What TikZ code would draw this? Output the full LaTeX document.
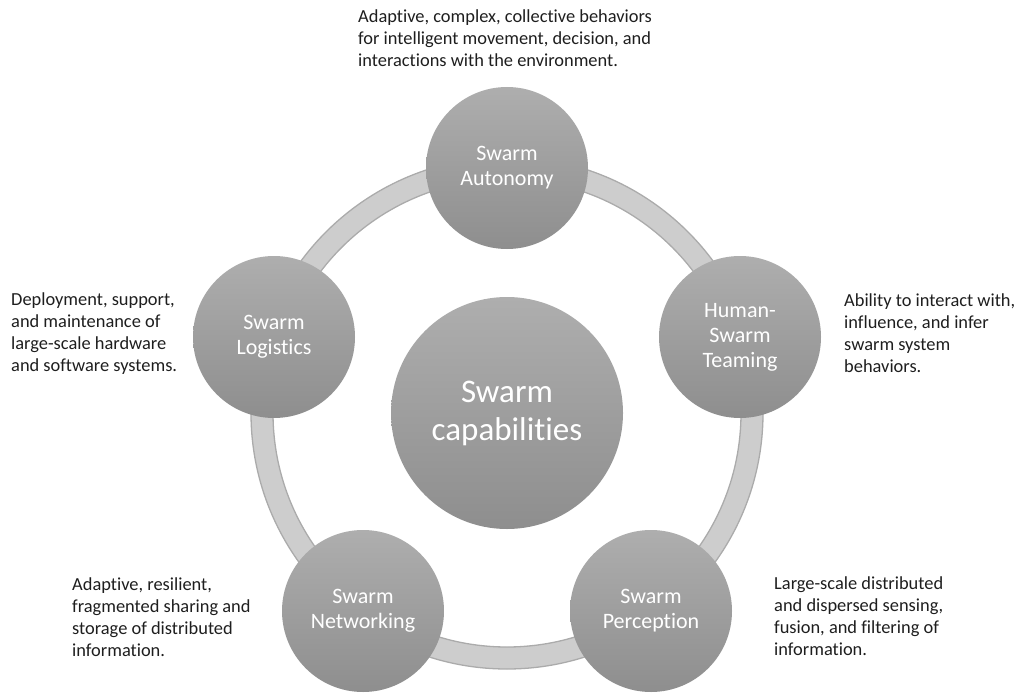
\documentclass[tikz,border=0pt]{standalone}
\usepackage{fontspec}
\setmainfont{Carlito}[Ligatures=NoCommon]
\definecolor{ringfill}{HTML}{CDCDCD}
\definecolor{ringedge}{HTML}{ABABAB}
\definecolor{balltop}{HTML}{AEAEAE}
\definecolor{ballbottom}{HTML}{8E8E8E}
\definecolor{desctext}{HTML}{1E1E1E}
\begin{document}
\begin{tikzpicture}[x=1pt,y=-1pt,
  ball/.style={circle, inner sep=0pt, minimum size=162pt,
    top color=balltop, bottom color=ballbottom, text=white, align=center,
    font=\fontsize{22}{25}\selectfont},
  core/.style={ball, minimum size=232pt,
    font=\fontsize{33}{38}\selectfont},
  desc/.style={anchor=base west, align=left, inner sep=0pt, text=desctext,
    font=\fontsize{18.4}{22}\selectfont}]
\useasboundingbox (0,0) rectangle (1017,695);

% centre hub and the ring that links the five capabilities
\coordinate (mid) at (507,413);
\draw[ringfill, line width=22pt] (mid) circle[radius=245];
\draw[ringedge, line width=1.3pt] (mid) circle[radius=256];
\draw[ringedge, line width=1.3pt] (mid) circle[radius=234];

\node[core] (caps) at (mid) {Swarm\\capabilities};

% capabilities around the ring
\node[ball] (auto) at (507,168) {Swarm\\Autonomy};
\node[ball] (team) at (740,337) {Human-\\Swarm\\Teaming};
\node[ball] (perc) at (651,611) {Swarm\\Perception};
\node[ball] (netw) at (363,611) {Swarm\\Networking};
\node[ball] (logi) at (274,337) {Swarm\\Logistics};

% descriptions (each placed by the baseline of its last line)
\node[desc] (dauto) at (358,67) {Adaptive, complex, collective behaviors\\for intelligent movement, decision, and\\interactions with the environment.};
\node[desc] (dteam) at (844,372) {Ability to interact with,\\influence, and infer\\swarm system\\behaviors.};
\node[desc] (dlogi) at (11,371) {Deployment, support,\\and maintenance of\\large-scale hardware\\and software systems.};
\node[desc] (dnetw) at (72,656) {Adaptive, resilient,\\fragmented sharing and\\storage of distributed\\information.};
\node[desc] (dperc) at (774,655) {Large-scale distributed\\and dispersed sensing,\\fusion, and filtering of\\information.};
\end{tikzpicture}
\end{document}
